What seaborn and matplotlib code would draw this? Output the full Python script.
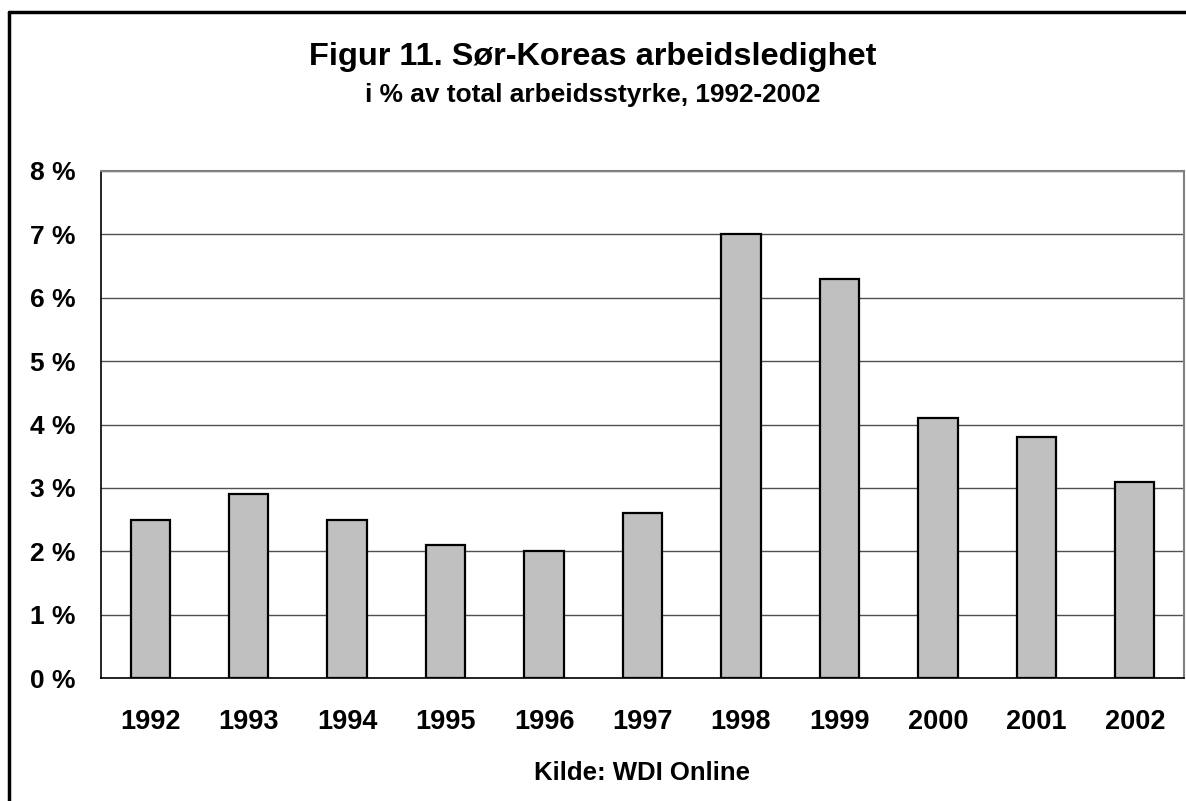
import seaborn as sns
import matplotlib.pyplot as plt
from matplotlib.ticker import FixedLocator
import pandas as pd

# data
years = ['1992', '1993', '1994', '1995', '1996', '1997', '1998', '1999', '2000', '2001', '2002']
unemployment = [2.5, 2.9, 2.5, 2.1, 2.0, 2.6, 7.0, 6.3, 4.1, 3.8, 3.1]
y_ticks = [0, 1, 2, 3, 4, 5, 6, 7, 8]
y_tick_labels = [f'{v} %' for v in y_ticks]

sns.set_style('white')
plt.rcParams['font.family'] = ['Liberation Sans', 'DejaVu Sans']
plt.rcParams['text.color'] = 'black'
plt.rcParams['axes.labelcolor'] = 'black'
plt.rcParams['xtick.labelcolor'] = 'black'
plt.rcParams['ytick.labelcolor'] = 'black'

df = pd.DataFrame({'year': years, 'rate': unemployment})

fig = plt.figure(figsize=(11.86, 8.01), dpi=100)
ax = fig.add_axes([101 / 1186, 1 - 678 / 801, 1083 / 1186, 507 / 801])

sns.barplot(data=df, x='year', y='rate', color='#C0C0C0', saturation=1,
            width=0.4, edgecolor='black', linewidth=1.6, ax=ax, zorder=3)

ax.set_xlim(-0.5, len(years) - 0.5)
ax.set_ylim(0, 8)
ax.set_yticks(y_ticks)
ax.set_yticklabels(y_tick_labels, fontsize=19, fontweight='bold')
ax.set_xticks(range(len(years)))
ax.set_xticklabels(years, fontsize=19.5, fontweight='bold')
ax.xaxis.set_minor_locator(FixedLocator([i - 0.5 for i in range(len(years) + 1)]))
ax.tick_params(axis='x', which='major', length=0, pad=22)
ax.tick_params(axis='x', which='minor', length=8, width=1, color='#404040', direction='out')
ax.tick_params(axis='y', which='major', length=8, width=1, color='black', direction='out', pad=10)

ax.grid(axis='y', color='#505050', linewidth=1, zorder=0)
ax.set_axisbelow(True)

ax.spines['left'].set_color('black')
ax.spines['bottom'].set_color('black')
ax.spines['left'].set_linewidth(1.2)
ax.spines['bottom'].set_linewidth(1.2)
ax.spines['top'].set_color('#808080')
ax.spines['right'].set_color('#808080')
ax.spines['top'].set_linewidth(1.5)
ax.spines['right'].set_linewidth(1.5)

ax.set_ylabel('')
ax.set_xlabel('Kilde: WDI Online', fontsize=18.5, fontweight='bold', labelpad=19)

fig.text(0.5, 1 - 65 / 801, 'Figur 11. Sør-Koreas arbeidsledighet', ha='center', va='baseline',
         fontsize=23.4, fontweight='bold')
fig.text(0.5, 1 - 102 / 801, 'i % av total arbeidsstyrke, 1992-2002', ha='center', va='baseline',
         fontsize=18.9, fontweight='bold')

# chart-area frame, only the top and left edges are visible in the reference
fig.add_artist(plt.Line2D([9 / 1186, 9 / 1186], [0, 1 - 12 / 801], transform=fig.transFigure,
                          color='black', linewidth=2.5))
fig.add_artist(plt.Line2D([9 / 1186, 1], [1 - 12 / 801, 1 - 12 / 801], transform=fig.transFigure,
                          color='black', linewidth=2.5))

fig.savefig('out.png', dpi=100)
